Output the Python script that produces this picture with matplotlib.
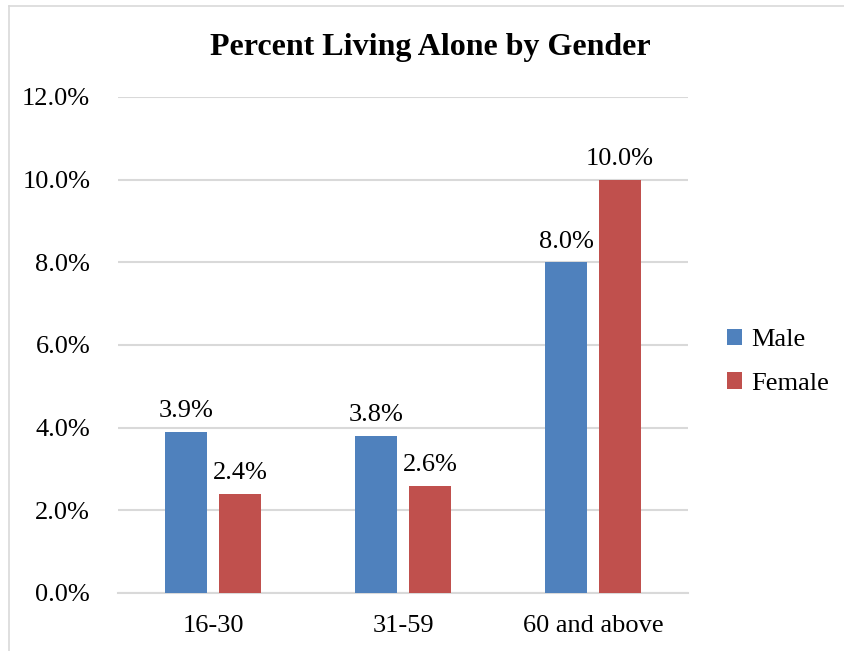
import numpy as np
import matplotlib.pyplot as plt
from matplotlib.lines import Line2D

plt.rcParams['font.family'] = ['Liberation Serif', 'DejaVu Serif']

# Share of people living alone, in percent
age_groups = ['16-30', '31-59', '60 and above']
male = [3.9, 3.8, 8.0]
female = [2.4, 2.6, 10.0]
series_names = ['Male', 'Female']

blue = '#4F81BD'
red = '#C0504D'
grid_gray = '#D9D9D9'

fig = plt.figure(figsize=(8.44, 6.51), dpi=100)
ax = fig.add_axes([0.1398, 0.0891, 0.6754, 0.762])

x = np.arange(len(age_groups))
w = 0.224
off = 0.142
b1 = ax.bar(x - off, male, w, color=blue, label=series_names[0], zorder=3)
b2 = ax.bar(x + off, female, w, color=red, label=series_names[1], zorder=3)

for bars, vals in ((b1, male), (b2, female)):
    for rect, v in zip(bars, vals):
        ax.annotate(f'{v:.1f}%', (rect.get_x() + rect.get_width() / 2, v),
                    xytext=(0, 7), textcoords='offset points',
                    ha='center', va='bottom', fontsize=19)

ax.set_xlim(-0.5, 2.5)
ax.set_ylim(0, 12)
ax.set_yticks(np.arange(0, 12.1, 2))
ax.set_yticklabels([f'{t:.1f}%' for t in np.arange(0, 12.1, 2)])
ax.set_xticks(x)
ax.set_xticklabels(age_groups)
ax.tick_params(axis='both', length=0, labelsize=19)
ax.tick_params(axis='y', pad=20)
ax.tick_params(axis='x', pad=16)
ax.yaxis.grid(True, color=grid_gray, linewidth=1.5, zorder=0)
for s in ('left', 'right', 'top'):
    ax.spines[s].set_visible(False)
ax.spines['bottom'].set_color(grid_gray)
ax.spines['bottom'].set_linewidth(1.5)

ax.legend(loc='center left', bbox_to_anchor=(1.026, 0.466), frameon=False,
          fontsize=19, handlelength=0.6, handleheight=0.6,
          handletextpad=0.35, labelspacing=0.8)

fig.text(0.51, 0.927, 'Percent Living Alone by Gender', ha='center',
         va='center', fontsize=23, fontweight='bold')

# outer chart frame (left and top edges)
fig.add_artist(Line2D([0.0107, 0.0107], [0, 0.9908], transform=fig.transFigure,
                      color=grid_gray, linewidth=1.2))
fig.add_artist(Line2D([0.0107, 1.0], [0.9908, 0.9908], transform=fig.transFigure,
                      color=grid_gray, linewidth=1.2))

fig.savefig('out.png', dpi=100)
